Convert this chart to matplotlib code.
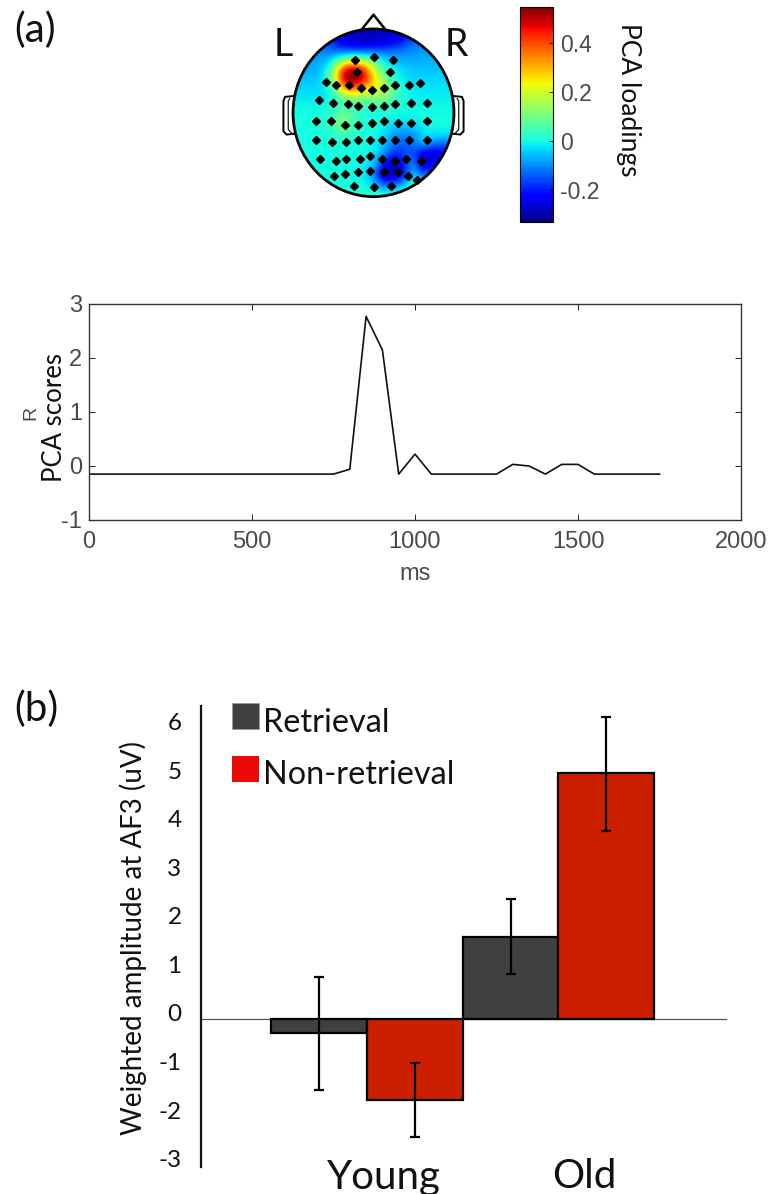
#!/usr/bin/python3
#
# PCA loadings scalp map, PCA scores time course and
# weighted amplitude bars for young / old groups

import matplotlib
matplotlib.use("Agg")
import matplotlib.pyplot as plt
from matplotlib.patches import Circle, Rectangle
from matplotlib.transforms import ScaledTranslation
import numpy

plt.rcParams['axes.unicode_minus'] = False

##################################################
#
# data
#
##################################################

# scalp map, loadings on a regular grid, top row = front of the head
grid_step = 12.5
loadings = [
    [-.10,-.12,-.15,-.18,-.20,-.22,-.25,-.26,-.26,-.26,-.25,-.22,-.20,-.18,-.15,-.12,-.10],
    [-.10,-.11,-.12,-.14,-.20,-.28,-.29,-.30,-.30,-.29,-.28,-.22,-.15,-.10,-.09,-.09,-.09],
    [-.09,-.09,-.10,-.12,-.14,-.18,-.18,-.20,-.18,-.16,-.14,-.12,-.10,-.09,-.08,-.08,-.08],
    [-.08,-.08,-.08,-.07,-.03, .10, .14, .14, .08,-.02,-.06,-.07,-.07,-.07,-.07,-.07,-.07],
    [-.07,-.07,-.07,-.05, .12, .50, .60, .48, .22, .05, .00,-.03,-.05,-.05,-.05,-.05,-.05],
    [-.05,-.05,-.05,-.02, .12, .50, .56, .48, .30, .15, .02,-.02,-.03,-.03,-.03,-.03,-.03],
    [-.03,-.03,-.03,-.04, .02, .22, .30, .22, .18, .22, .08, .01,-.02,-.02,-.02,-.02,-.02],
    [-.01,-.01,-.01,-.01, .00, .04, .05, .06, .05, .08, .03, .00,-.01,-.01,-.01,-.01,-.01],
    [ .00, .00, .00, .00, .03, .09, .04, .01, .00, .00, .00, .00, .00, .00, .00, .00, .00],
    [ .00, .00, .00, .01, .06, .15, .05, .01, .00, .00,-.02,-.02,-.02, .00, .00, .00, .00],
    [ .00, .00, .00, .00, .02, .06, .02, .00, .00,-.02,-.09,-.11,-.09,-.02,-.01,-.01,-.01],
    [ .00, .00, .00, .00, .00, .00, .00, .00, .00,-.04,-.12,-.14,-.14,-.03,-.12,-.14,-.12],
    [ .00, .00, .00, .00, .00, .00, .00, .00,-.01,-.09,-.20,-.17,-.14,-.30,-.30,-.24,-.20],
    [ .00, .00, .00, .00, .00, .00, .00,-.01,-.04,-.22,-.32,-.20,-.05,-.30,-.24,-.12,-.10],
    [ .00, .00, .00, .00, .00, .00, .00,-.01,-.10,-.32,-.30,-.22,-.03,-.14,-.05,-.03,-.03],
    [ .00, .00, .00, .00, .00, .00, .00, .00,-.02,-.09,-.09,-.03, .08, .05, .02, .02, .02],
    [ .02, .02, .02, .02, .02, .02, .02, .03, .03, .04, .05, .06, .06, .05, .03, .02, .02],
]
elec_x = [-23, 0, 24, -21, 20,
          -59, -47, -30, -15, -2, 13, 27, 44, 58,
          -68, -50, -32, -19, -2, 13, 27, 46, 67,
          -71, -53, -36, -19, -2, 13, 31, 46, 67,
          -71, -51, -34, -19, -4, 11, 27, 44, 67,
          -66, -47, -34, -17, -4, 11, 27, 41, 59,
          -49, -36, -19, -4, 13, 31, 43, 54,
          -24, 0, 22]
elec_y = [63, 67, 63, 49, 49,
          37, 33, 33, 30, 27, 29, 33, 33, 35,
          15, 12, 10, 8, 7, 8, 10, 12, 12,
          -10, -10, -14, -14, -12, -10, -12, -12, -10,
          -33, -35, -35, -33, -32, -33, -33, -33, -33,
          -55, -57, -55, -55, -51, -55, -57, -55, -57,
          -75, -73, -71, -69, -71, -71, -75, -80,
          -87, -89, -87]
cbar_ticks = [-0.2, 0, 0.2, 0.4]
cbar_labels = ['-0.2', '0', '0.2', '0.4']
load_min = -0.33
load_max = 0.547

# PCA scores, one sample every 50 ms
score_ms = [0, 50, 100, 150, 200, 250, 300, 350, 400, 450, 500, 550, 600, 650, 700, 750,
            800, 850, 900, 950, 1000, 1050, 1100, 1150, 1200, 1250, 1300, 1350, 1400,
            1450, 1500, 1550, 1600, 1650, 1700, 1750]
scores = [-0.15, -0.15, -0.15, -0.15, -0.15, -0.15, -0.15, -0.15, -0.15, -0.15, -0.15,
          -0.15, -0.15, -0.15, -0.15, -0.15, -0.06, 2.77, 2.15, -0.15, 0.22, -0.15,
          -0.15, -0.15, -0.15, -0.15, 0.03, 0.0, -0.15, 0.03, 0.03, -0.15, -0.15,
          -0.15, -0.15, -0.15]

# weighted amplitude bars
groups = ['Young', 'Old']
retrieval = [-0.29, 1.69]
retrieval_low = [-1.46, 0.93]
retrieval_high = [0.87, 2.47]
non_retrieval = [-1.67, 5.07]
non_retrieval_low = [-2.43, 3.88]
non_retrieval_high = [-0.91, 6.23]
amp_ticks = [-3, -2, -1, 0, 1, 2, 3, 4, 5, 6]

##################################################
#
# helpers
#
##################################################

W = 770
H = 1194

def px_axes(fig, left, top, right, bottom):
    # axes from image pixel edges
    return fig.add_axes([left / W, 1 - bottom / H, (right - left) / W, (bottom - top) / H])

def px_text(fig, x, y, s, **kw):
    return fig.text(x / W, 1 - y / H, s, **kw)

fig = plt.figure(figsize=(W / 100, H / 100), dpi=100)
matlab_font = 'Liberation Sans'
slide_font = 'Lato'
gray = '#4a4a4a'

##################################################
#
# (a) scalp map
#
##################################################

ax = px_axes(fig, 281, 8, 466, 205)
ax.set_xlim(-115, 115)
ax.set_ylim(-110, 125)
ax.axis('off')

half = 8 * grid_step + grid_step / 2
im = ax.imshow(loadings, cmap='jet', vmin=load_min, vmax=load_max, interpolation='bicubic',
               extent=[-half, half, -half, half], aspect='auto', zorder=1)
head = Circle((0, 0), 100, transform=ax.transData, facecolor='none', edgecolor='black', lw=2.0, zorder=3)
ax.add_patch(head)
im.set_clip_path(head)

# nose and ears
ax.plot([-15, 0, 15], [99, 117, 99], color='black', lw=1.8, zorder=2)
ax.plot([-99, -110, -112, -112, -108, -99], [20, 19, 14, -22, -26, -25], color='black', lw=1.4, zorder=2)
ax.plot([-104, -106, -106, -102], [17, 14, -20, -24], color='black', lw=0.8, zorder=2)
ax.plot([99, 110, 112, 112, 108, 99], [20, 19, 14, -22, -26, -25], color='black', lw=1.4, zorder=2)
ax.plot([104, 106, 106, 102], [17, 14, -20, -24], color='black', lw=0.8, zorder=2)

ax.plot(elec_x, elec_y, linestyle='none', marker='D', markersize=3.6, color='black', zorder=4)

cax = px_axes(fig, 520, 7, 553, 222)
cbar = fig.colorbar(im, cax=cax)
cbar.set_ticks(cbar_ticks, labels=cbar_labels)
cbar.ax.tick_params(direction='in', length=3, width=0.6, labelsize=16.5, labelcolor=gray, pad=5)
cbar.outline.set_linewidth(0.8)
for lab in cbar.ax.get_yticklabels():
    lab.set_fontfamily(matlab_font)

px_text(fig, 628, 100, 'PCA loadings', rotation=270, ha='center', va='center',
        fontsize=19, family=slide_font, color='#111111')
px_text(fig, 283, 45, 'L', ha='center', va='center', fontsize=27, family=slide_font, color='#111111')
px_text(fig, 456, 45, 'R', ha='center', va='center', fontsize=27, family=slide_font, color='#111111')
px_text(fig, 35, 30, '(a)', ha='center', va='center', fontsize=29, family=slide_font, color='#111111')

##################################################
#
# (a) PCA scores
#
##################################################

ax = px_axes(fig, 89, 304, 741, 520)
ax.plot(score_ms, scores, color='#111111', lw=1.2)
ax.set_xlim(0, 2000)
ax.set_ylim(-1, 3)
ax.set_xticks([0, 500, 1000, 1500, 2000])
ax.set_yticks([-1, 0, 1, 2, 3])
ax.tick_params(direction='in', length=4, width=0.6, top=True, right=True,
               labelsize=17, labelcolor=gray)
ax.tick_params(axis='x', pad=8)
ax.tick_params(axis='y', pad=5)
for lab in ax.get_xticklabels() + ax.get_yticklabels():
    lab.set_fontfamily(matlab_font)
for side in ax.spines.values():
    side.set_linewidth(1.0)
    side.set_color('#333333')
ax.set_xlabel('ms', fontsize=17, family=matlab_font, color=gray, labelpad=7)
px_text(fig, 31, 413, 'R', rotation=90, ha='center', va='center', fontsize=14,
        family=matlab_font, color=gray)
px_text(fig, 54, 418, 'PCA scores', rotation=90, ha='center', va='center', fontsize=18.5,
        family=slide_font, color='#111111')

##################################################
#
# (b) amplitude bars
#
##################################################

ax = px_axes(fig, 201, 706, 727, 1167)
ax.patch.set_alpha(0)
width = 0.5
pos = numpy.arange(len(groups))
dark = '#404040'
red = '#cc1f00'

ret_err = [numpy.array(retrieval) - numpy.array(retrieval_low),
           numpy.array(retrieval_high) - numpy.array(retrieval)]
non_err = [numpy.array(non_retrieval) - numpy.array(non_retrieval_low),
           numpy.array(non_retrieval_high) - numpy.array(non_retrieval)]
err_style = {'ecolor': 'black', 'elinewidth': 1.6, 'capsize': 3.8, 'capthick': 1.6}
ax.bar(pos - width / 2, retrieval, width, color=dark, edgecolor='black', lw=1.6,
       yerr=ret_err, error_kw=err_style)
ax.bar(pos + width / 2, non_retrieval, width, color=red, edgecolor='black', lw=1.6,
       yerr=non_err, error_kw=err_style)

ax.set_xlim(-0.867, 1.881)
ax.set_ylim(-3.05, 6.45)
ax.set_xticks([])
ax.set_yticks(amp_ticks)
ax.tick_params(axis='y', length=0, labelsize=17.5, pad=14, labelcolor='#111111')
offset = ScaledTranslation(0, 6 / 100, fig.dpi_scale_trans)
for lab in ax.get_yticklabels():
    lab.set_fontfamily(slide_font)
    lab.set_transform(lab.get_transform() + offset)

ax.spines['top'].set_visible(False)
ax.spines['right'].set_visible(False)
ax.spines['bottom'].set_visible(False)
ax.spines['left'].set_linewidth(1.6)
ax.spines['left'].set_color('#111111')
ax.axhline(0, color='#555555', lw=0.9, zorder=0)

px_text(fig, 384, 1177, groups[0], ha='center', va='center', fontsize=29, family=slide_font, color='#111111')
px_text(fig, 584, 1177, groups[1], ha='center', va='center', fontsize=29, family=slide_font, color='#111111')

# legend swatches
fig.add_artist(Rectangle((232 / W, 1 - 729 / H), 27 / W, 26 / H, transform=fig.transFigure,
                         facecolor=dark, edgecolor='#999999', lw=0.5))
fig.add_artist(Rectangle((232 / W, 1 - 782 / H), 27 / W, 26 / H, transform=fig.transFigure,
                         facecolor='#ee0808', edgecolor='none'))
px_text(fig, 263, 723, 'Retrieval', ha='left', va='center', fontsize=23.3, family=slide_font, color='#111111')
px_text(fig, 263, 775, 'Non-retrieval', ha='left', va='center', fontsize=23.3, family=slide_font, color='#111111')

px_text(fig, 133, 938, 'Weighted amplitude at AF3 (uV)', rotation=90, ha='center', va='center',
        fontsize=20, family=slide_font, color='#111111')
px_text(fig, 36, 709, '(b)', ha='center', va='center', fontsize=29, family=slide_font, color='#111111')

plt.savefig('out.png', dpi=100)
